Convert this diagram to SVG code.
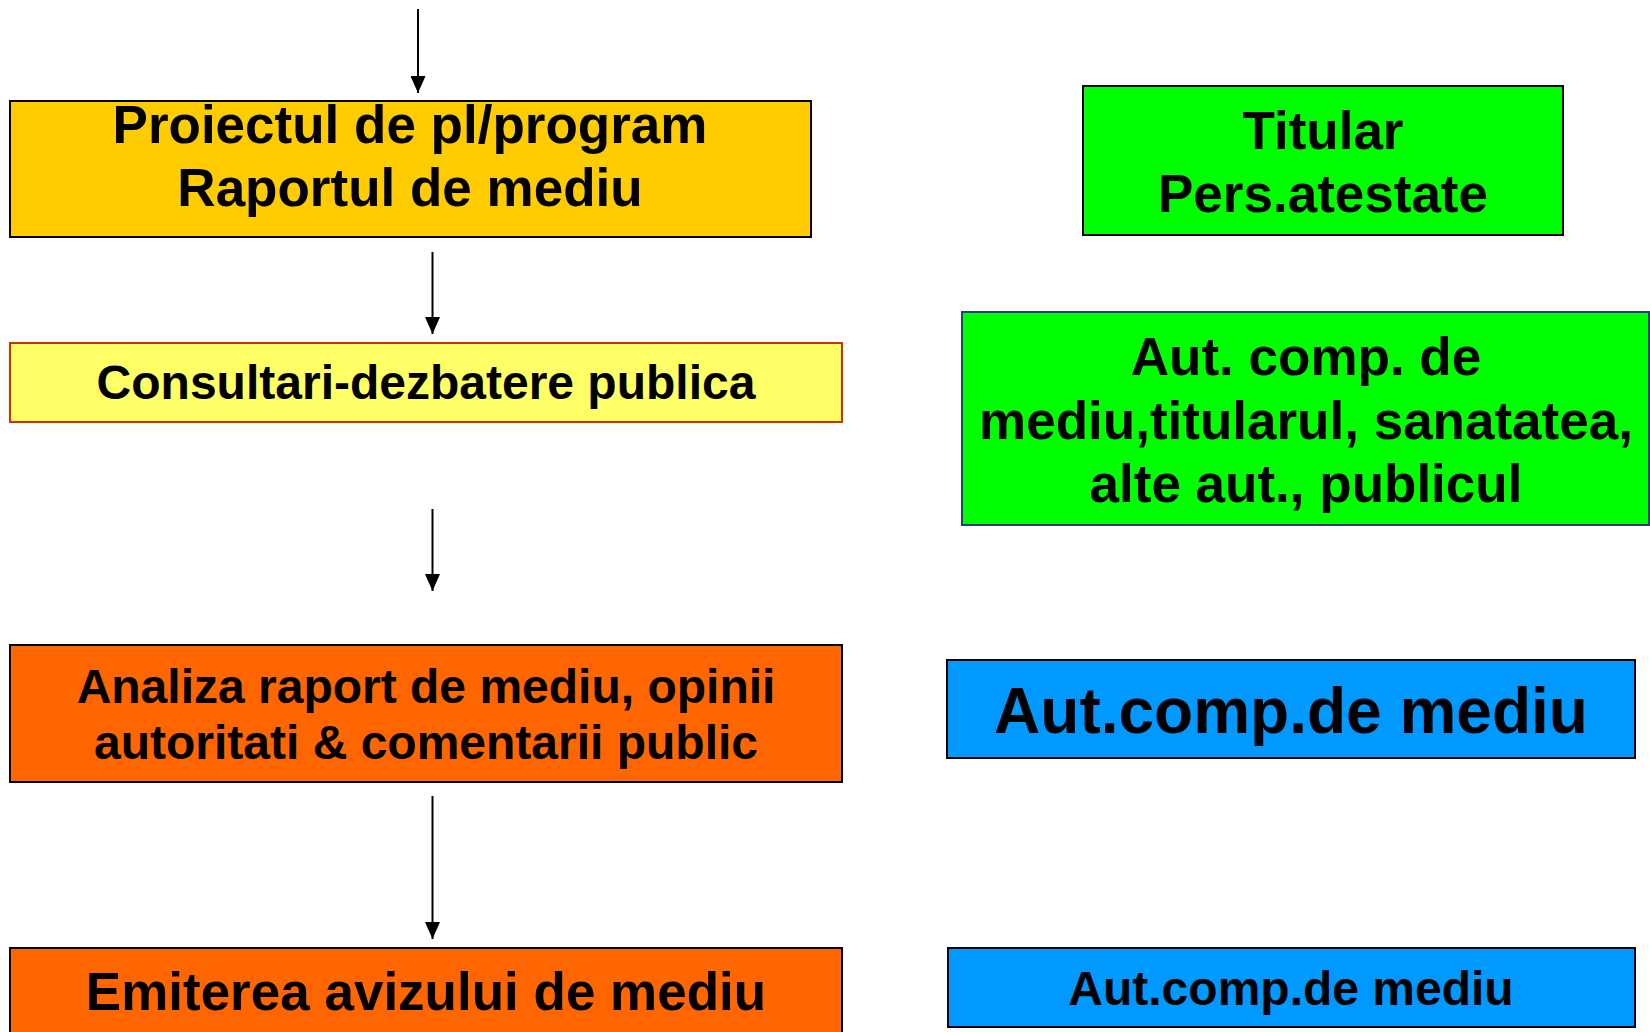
<svg xmlns="http://www.w3.org/2000/svg" width="1650" height="1032" viewBox="0 0 1650 1032">
  <style>
    .lbl { font-family: "Liberation Sans", Arial, sans-serif; font-weight: bold; fill: #000; text-anchor: middle; }
    .box { stroke-width: 2; }
    .conn { stroke: #000; stroke-width: 2; fill: none; }
  </style>
  <defs>
    <marker id="arrow" markerUnits="userSpaceOnUse" viewBox="0 0 17 15" refX="17" refY="7.5" markerWidth="17" markerHeight="15" orient="auto">
      <path d="M0,0 L17,7.5 L0,15 z" fill="#000"/>
    </marker>
  </defs>
  <rect x="0" y="0" width="1650" height="1032" fill="#fff"/>

  <g id="connectors">
    <line class="conn" x1="418" y1="9" x2="418" y2="93" marker-end="url(#arrow)"/>
    <line class="conn" x1="432.5" y1="252" x2="432.5" y2="334" marker-end="url(#arrow)"/>
    <line class="conn" x1="432.5" y1="509" x2="432.5" y2="591" marker-end="url(#arrow)"/>
    <line class="conn" x1="432.5" y1="796" x2="432.5" y2="939" marker-end="url(#arrow)"/>
  </g>

  <g id="node-proiectul">
    <rect class="box" x="10" y="101" width="801" height="136" fill="#FFCC00" stroke="#000"/>
    <text class="lbl" x="410" y="143" font-size="53">Proiectul de pl/program</text>
    <text class="lbl" x="410" y="206" font-size="53">Raportul de mediu</text>
  </g>

  <g id="node-consultari">
    <rect class="box" x="10" y="343" width="832" height="79" fill="#FFFF66" stroke="#CC3300"/>
    <text class="lbl" x="426" y="399" font-size="48">Consultari-dezbatere publica</text>
  </g>

  <g id="node-analiza">
    <rect class="box" x="10" y="645" width="832" height="137" fill="#FF6600" stroke="#000"/>
    <text class="lbl" x="426" y="702.5" font-size="48">Analiza raport de mediu, opinii</text>
    <text class="lbl" x="426" y="759" font-size="48">autoritati &amp; comentarii public</text>
  </g>

  <g id="node-emiterea">
    <rect class="box" x="10" y="948" width="832" height="100" fill="#FF6600" stroke="#000"/>
    <text class="lbl" x="426" y="1010" font-size="53">Emiterea avizului de mediu</text>
  </g>

  <g id="node-titular">
    <rect class="box" x="1083" y="86" width="480" height="149" fill="#00FF00" stroke="#000"/>
    <text class="lbl" x="1323" y="149" font-size="53">Titular</text>
    <text class="lbl" x="1323" y="212" font-size="53">Pers.atestate</text>
  </g>

  <g id="node-autcomp-all">
    <rect class="box" x="962" y="312" width="687" height="213" fill="#00FF00" stroke="#333399"/>
    <text class="lbl" x="1306" y="375" font-size="53">Aut. comp. de</text>
    <text class="lbl" x="1306" y="439" font-size="53">mediu,titularul, sanatatea,</text>
    <text class="lbl" x="1306" y="502" font-size="53">alte aut., publicul</text>
  </g>

  <g id="node-autcomp-1">
    <rect class="box" x="947" y="660" width="688" height="98" fill="#0099FF" stroke="#000"/>
    <text class="lbl" x="1291" y="733" font-size="64">Aut.comp.de mediu</text>
  </g>

  <g id="node-autcomp-2">
    <rect class="box" x="948" y="948" width="687" height="79" fill="#0099FF" stroke="#000"/>
    <text class="lbl" x="1291" y="1004.5" font-size="48">Aut.comp.de mediu</text>
  </g>
</svg>
